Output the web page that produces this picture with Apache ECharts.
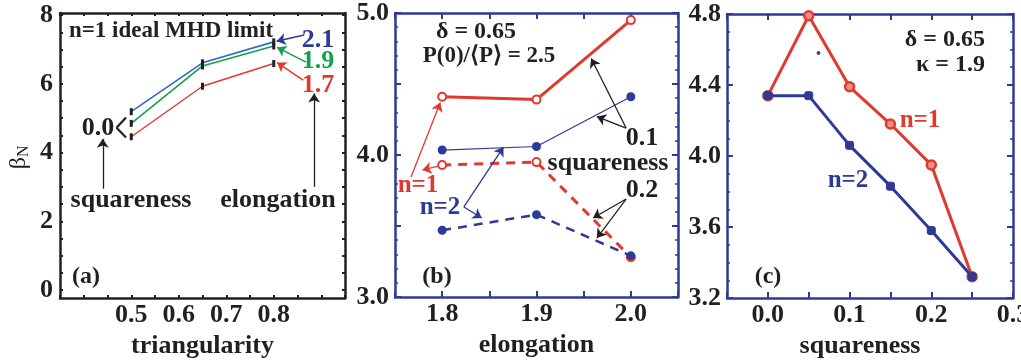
<!DOCTYPE html>
<html><head><meta charset="utf-8">
<script src="https://cdn.jsdelivr.net/npm/echarts@6/dist/echarts.min.js"></script>
<style>html,body{margin:0;padding:0;background:#fff}#c{width:1021px;height:361px}</style>
</head><body><div id="c"></div>
<script>
// ---- data: panel (a) beta_N vs triangularity, one line per elongation
const triangularity = [0.5, 0.65, 0.8];
const betaKappa21 = [5.19, 6.61, 7.22];
const betaKappa19 = [4.85, 6.52, 7.10];
const betaKappa17 = [4.46, 5.93, 6.59];

// ---- panel (b) beta_N vs elongation
const elongation = [1.8, 1.9, 2.0];
const n1Sq01 = [4.41, 4.39, 4.95];
const n2Sq01 = [4.035, 4.06, 4.41];
const n1Sq02 = [3.93, 3.95, 3.28];
const n2Sq02 = [3.47, 3.58, 3.29];

// ---- panel (c) beta_N vs squareness
const squareness = [0.0, 0.05, 0.1, 0.15, 0.2, 0.25];
const n1Square = [4.34, 4.79, 4.39, 4.18, 3.95, 3.32];
const n2Square = [4.34, 4.34, 4.06, 3.83, 3.58, 3.32];
const strayDot = [[0.062, 4.58]];

// ---- tick labels
const aXLabels = [0.5, 0.6, 0.7, 0.8];
const aYLabels = [0, 2, 4, 6, 8];
const aYTicks = [0, 0.5, 1, 1.5, 2, 2.5, 3, 3.5, 4, 4.5, 5, 5.5, 6, 6.5, 7, 7.5, 8];
const bXLabels = [1.8, 1.9, 2.0];
const bYLabels = [3.0, 4.0, 5.0];
const cXLabels = [0.0, 0.1, 0.2, 0.3];

const F = 'Liberation Serif';
const INK = '#231f20';
const NAVY = '#2e3a97';
const RED = '#e0392f';
const BLUE_A = '#2f6cc2';
const GREEN = '#16a04a';

const zip = (xs, ys) => xs.map((x, i) => [x, ys[i]]);

function ax(gridIndex, pos, color, min, max, extra) {
  return Object.assign({
    type: 'value', gridIndex, position: pos, min, max,
    axisLine: {show: true, onZero: false, lineStyle: {color, width: 2.5}},
    axisTick: {show: true, inside: true, length: 6, lineStyle: {color, width: 2}},
    splitLine: {show: false},
    axisLabel: {show: false}
  }, extra || {});
}
const lbl = (vals, fmt, margin) => {
  const o = {show: true, formatter: fmt, margin: margin,
    fontFamily: F, fontWeight: 'bold', fontSize: 26, color: INK};
  if (vals) o.customValues = vals;
  return o;
};
const nameStyle = {fontFamily: F, fontWeight: 'bold', fontSize: 26, color: INK};
const f1 = v => Number(v).toFixed(1);
const smallTick = (color, extra) => Object.assign({show: true, inside: true, length: 3, lineStyle: {color, width: 2}}, extra || {});

const grids = [
  {left: 60, top: 13, width: 285, height: 285, outerBoundsMode: 'none', containLabel: false},
  {left: 395, top: 13, width: 283, height: 284, outerBoundsMode: 'none', containLabel: false},
  {left: 727, top: 14, width: 286, height: 284, outerBoundsMode: 'none', containLabel: false}
];

const xAxes = [
  ax(0, 'bottom', INK, 0.35, 0.95, {interval: 0.05, axisTick: smallTick(INK),
    axisLabel: lbl(aXLabels, f1, 4), name: 'triangularity', nameLocation: 'middle', nameGap: 30, nameTextStyle: nameStyle}),
  ax(0, 'top', INK, 0.35, 0.95, {interval: 0.05, axisTick: smallTick(INK)}),
  ax(1, 'bottom', NAVY, 1.75, 2.05, {interval: 0.05, axisLabel: lbl(bXLabels, f1, 4),
    name: 'elongation', nameLocation: 'middle', nameGap: 30, nameTextStyle: nameStyle}),
  ax(1, 'top', NAVY, 1.75, 2.05, {interval: 0.05}),
  ax(2, 'bottom', NAVY, -0.05, 0.3, {interval: 0.05, axisLabel: lbl(cXLabels, f1, 4),
    name: 'squareness', nameLocation: 'middle', nameGap: 30, nameTextStyle: Object.assign({padding: [0, 20, 0, 0]}, nameStyle)}),
  ax(2, 'top', NAVY, -0.05, 0.3, {interval: 0.05})
];
const yAxes = [
  ax(0, 'left', INK, -0.23, 8.06, {axisTick: smallTick(INK, {customValues: aYTicks}),
    axisLabel: lbl(aYLabels, v => String(v), 7)}),
  ax(0, 'right', INK, -0.23, 8.06, {axisTick: smallTick(INK, {customValues: aYTicks})}),
  ax(1, 'left', NAVY, 3.0, 5.0, {interval: 0.5, minorTick: {show: true, splitNumber: 5, length: 3, lineStyle: {color: NAVY, width: 1.5}},
    axisLabel: lbl(bYLabels, f1, 6)}),
  ax(1, 'right', NAVY, 3.0, 5.0, {interval: 0.5, minorTick: {show: true, splitNumber: 5, length: 3, lineStyle: {color: NAVY, width: 1.5}}}),
  ax(2, 'left', NAVY, 3.2, 4.8, {interval: 0.4, minorTick: {show: true, splitNumber: 4, length: 3, lineStyle: {color: NAVY, width: 1.5}},
    axisLabel: lbl(null, f1, 6)}),
  ax(2, 'right', NAVY, 3.2, 4.8, {interval: 0.4, minorTick: {show: true, splitNumber: 4, length: 3, lineStyle: {color: NAVY, width: 1.5}}})
];

// arrow helper (coords in data space of the panel)
function arrow(p1, p2, color, width, noHead) {
  return [
    {coord: p1, symbol: 'none', lineStyle: {color, width: width || 1.2, type: 'solid'}},
    {coord: p2, symbol: noHead ? 'none' : 'arrow', symbolSize: 9}
  ];
}
const mlBase = {silent: true, animation: false, label: {show: false}, emphasis: {disabled: true}, symbolSize: 9};

const aSym = {symbol: 'rect', symbolSize: [3, 7], itemStyle: {color: INK}};
const series = [
  Object.assign({type: 'line', xAxisIndex: 0, yAxisIndex: 0, data: zip(triangularity, betaKappa21),
    lineStyle: {color: BLUE_A, width: 1.6}, z: 3,
    markLine: Object.assign({}, mlBase, {data: [
      arrow([0.864, 7.42], [0.806, 7.24], NAVY, 1.5),
      arrow([0.868, 6.63], [0.807, 7.06], GREEN, 1.5),
      arrow([0.862, 6.11], [0.807, 6.62], RED, 1.5),
      arrow([0.44, 2.95], [0.44, 4.40], INK, 1.3),
      arrow([0.885, 3.0], [0.885, 5.72], INK, 1.3),
      arrow([0.489, 5.02], [0.469, 4.72], INK, 2.2, true),
      arrow([0.469, 4.72], [0.489, 4.44], INK, 2.2, true)
    ]})}, aSym),
  Object.assign({type: 'line', xAxisIndex: 0, yAxisIndex: 0, data: zip(triangularity, betaKappa19),
    lineStyle: {color: GREEN, width: 1.6}, z: 3}, aSym),
  Object.assign({type: 'line', xAxisIndex: 0, yAxisIndex: 0, data: zip(triangularity, betaKappa17),
    lineStyle: {color: RED, width: 1.4}, z: 3}, aSym),

  {type: 'line', xAxisIndex: 2, yAxisIndex: 2, data: zip(elongation, n1Sq01),
    lineStyle: {color: RED, width: 3}, symbol: 'circle', symbolSize: 8,
    itemStyle: {color: '#fff', borderColor: RED, borderWidth: 2}, z: 4,
    markLine: Object.assign({}, mlBase, {data: [
      arrow([1.995, 4.19], [1.958, 4.68], INK, 1.3),
      arrow([1.995, 4.19], [1.964, 4.27], INK, 1.3),
      arrow([1.995, 3.69], [1.960, 3.556], INK, 1.3),
      arrow([1.995, 3.69], [1.964, 3.415], INK, 1.3),
      arrow([1.767, 3.845], [1.798, 4.37], RED, 1.3),
      arrow([1.795, 3.92], [1.779, 3.895], RED, 1.3),
      arrow([1.823, 3.634], [1.865, 4.056], NAVY, 1.3),
      arrow([1.823, 3.634], [1.842, 3.556], NAVY, 1.3)
    ]})},
  {type: 'line', xAxisIndex: 2, yAxisIndex: 2, data: zip(elongation, n2Sq01),
    lineStyle: {color: NAVY, width: 1.2}, symbol: 'circle', symbolSize: 9,
    itemStyle: {color: NAVY}, z: 3},
  {type: 'line', xAxisIndex: 2, yAxisIndex: 2, data: zip(elongation, n1Sq02),
    lineStyle: {color: RED, width: 3, type: [9, 7]}, symbol: 'circle', symbolSize: 8,
    itemStyle: {color: '#fff', borderColor: RED, borderWidth: 2}, z: 3},
  {type: 'line', xAxisIndex: 2, yAxisIndex: 2, data: zip(elongation, n2Sq02),
    lineStyle: {color: NAVY, width: 2.5, type: [9, 7]}, symbol: 'circle', symbolSize: 9,
    itemStyle: {color: NAVY}, z: 4},

  {type: 'line', xAxisIndex: 4, yAxisIndex: 4, data: zip(squareness, n1Square),
    lineStyle: {color: RED, width: 3}, symbol: 'circle', symbolSize: 9,
    itemStyle: {color: '#ee8f86', borderColor: RED, borderWidth: 2.5}, z: 3},
  {type: 'line', xAxisIndex: 4, yAxisIndex: 4, data: zip(squareness, n2Square),
    lineStyle: {color: NAVY, width: 3}, symbol: 'roundRect', symbolSize: 8,
    itemStyle: {color: NAVY, borderColor: NAVY, borderWidth: 1}, z: 4},
  {type: 'scatter', xAxisIndex: 4, yAxisIndex: 4, data: strayDot, symbolSize: 4,
    itemStyle: {color: INK}, z: 4}
];

function txt(x, y, text, color, size, align, weight) {
  return {type: 'text', x, y, z: 100, silent: true, style: {
    text, fill: color, font: (weight || 'bold') + ' ' + size + 'px "' + F + '"',
    align: align || 'center', verticalAlign: 'middle',
    textAlign: align || 'center', textVerticalAlign: 'middle'}};
}

const graphic = [
  txt(171, 31, 'n=1 ideal MHD limit', INK, 23),
  txt(318, 40, '2.1', NAVY, 26),
  txt(318, 61, '1.9', GREEN, 26),
  txt(318, 85, '1.7', RED, 26),
  txt(98, 128, '0.0', INK, 26),
  txt(131, 200, 'squareness', INK, 26),
  txt(278, 200, 'elongation', INK, 26),
  txt(86, 277, '(a)', INK, 24),
  {type: 'group', x: 19, y: 157, rotation: Math.PI / 2, children: [
    {type: 'text', x: 0, y: 0, style: {text: 'β', font: '24px "' + F + '"', fill: INK, align: 'right', verticalAlign: 'middle', textAlign: 'right', textVerticalAlign: 'middle'}},
    {type: 'text', x: 0, y: 5, style: {text: 'N', font: '16px "' + F + '"', fill: INK, align: 'left', verticalAlign: 'middle', textAlign: 'left', textVerticalAlign: 'middle'}}
  ]},

  txt(476, 32, 'δ = 0.65', INK, 24),
  txt(489, 56, 'P(0)/⟨P⟩ = 2.5', INK, 23),
  txt(642, 138, '0.1', INK, 26),
  txt(608, 163, 'squareness', INK, 26),
  txt(642, 190, '0.2', INK, 26),
  txt(418, 186, 'n=1', RED, 25),
  txt(440, 208, 'n=2', NAVY, 25),
  txt(437, 277, '(b)', INK, 24),

  txt(985, 40, 'δ = 0.65', INK, 24, 'right'),
  txt(985, 65, 'κ = 1.9', INK, 24, 'right'),
  txt(920, 121, 'n=1', RED, 25),
  txt(848, 181, 'n=2', NAVY, 25),
  txt(768, 277, '(c)', INK, 24)
];

const chart = echarts.init(document.getElementById('c'), null, {renderer: 'canvas'});
chart.setOption({
  animation: false,
  backgroundColor: '#fff',
  grid: grids,
  xAxis: xAxes,
  yAxis: yAxes,
  series: series,
  graphic: graphic
});
</script>
</body></html>
